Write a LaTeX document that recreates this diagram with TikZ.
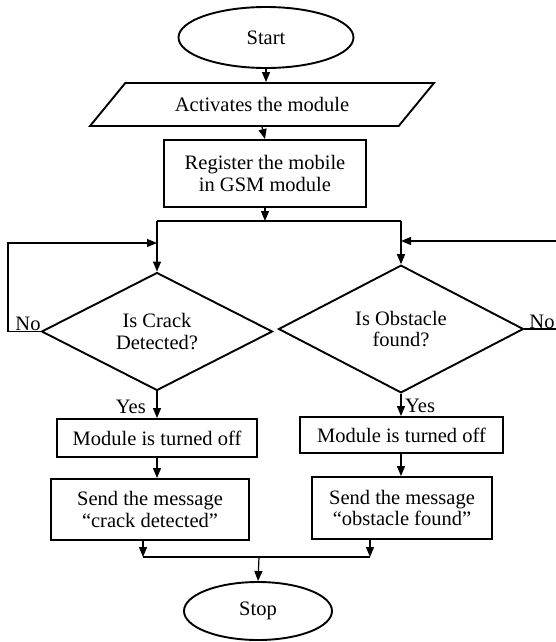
\documentclass[tikz,border=0pt]{standalone}
\usepackage{fontspec}
\setmainfont{Liberation Serif}
\usetikzlibrary{shapes.geometric,arrows.meta}
\begin{document}
\begin{tikzpicture}[x=1pt,y=-1pt,
  every node/.style={font=\fontsize{20.5}{21.5}\selectfont, align=center, inner sep=0pt},
  box/.style={draw, line width=1.9pt, rectangle},
  term/.style={draw, line width=1.9pt, ellipse},
  dec/.style={draw, line width=1.9pt, diamond},
  io/.style={draw, line width=1.9pt, trapezium, trapezium left angle=32.7, trapezium right angle=147.3, trapezium stretches=true},
  conn/.style={line width=1.2pt, -{Triangle[length=10pt,width=8pt]}},
  plain/.style={line width=1.2pt}
]
\fill[white] (0,0) rectangle (556,642);
\useasboundingbox (0,0) rectangle (556,642);

\node[term, minimum width=175pt, minimum height=61pt] (start) at (266,37.5) {Start};
\node[io, minimum width=344pt, minimum height=43pt] (act) at (262,104.5) {Activates the module};
\node[box, minimum width=202pt, minimum height=67pt] (reg) at (265,173.5) {Register the mobile\\in GSM module};

\draw[conn] (start.south) -- (start.south |- act.north);
\draw[conn] (act.north |- act.south) -- (reg.north);

\coordinate (jt) at (265,221);
\coordinate (jl) at (157,221);
\coordinate (jr) at (401,221);
\draw[conn] (reg.south) -- (jt);
\draw[plain] (jl) -- (jr);

\node[dec, minimum width=231pt, minimum height=113pt] (d1) at (157,331.5) {Is Crack\\Detected?};
\node[dec, minimum width=245pt, minimum height=112pt] (d2) at (401,329) {Is Obstacle\\found?};

\draw[conn] (jl) -- (d1.north);
\draw[conn] (jr) -- (d2.north);

\coordinate (lb) at (8,331.5);
\coordinate (lt) at (8,243);
\coordinate (la) at (157,243);
\draw[conn] (d1.west) -- (lb) -- (lt) -- (la);
\node[anchor=base] (no1) at (28,330) {No};

\coordinate (rb) at (558,329);
\coordinate (rt) at (558,241);
\coordinate (ra) at (401,241);
\draw[conn] (d2.east) -- (rb) -- (rt) -- (ra);
\node[anchor=base] (no2) at (542,328) {No};

\node[box, minimum width=200pt, minimum height=38pt] (m1) at (157,438) {Module is turned off};
\node[box, minimum width=198pt, minimum height=61pt] (s1) at (150,509.5) {Send the message\\“crack detected”};
\node[box, minimum width=203pt, minimum height=36pt] (m2) at (401.5,435) {Module is turned off};
\node[box, minimum width=180pt, minimum height=62pt] (s2) at (402,508) {Send the message\\“obstacle found”};

\draw[conn] (d1.south) -- (m1.north);
\node[anchor=base east] (yes1) at (146,413) {Yes};
\draw[conn] (d2.south) -- (d2.south |- m2.north);
\node[anchor=base west] (yes2) at (405,412) {Yes};
\draw[conn] (m1.south) -- (m1.south |- s1.north);
\draw[conn] (m2.south -| d2.south) -- (d2.south |- s2.north);

\node[term, minimum width=148pt, minimum height=58pt] (stop) at (258,611) {Stop};

\coordinate (bl) at (143,557);
\coordinate (br) at (370,557);
\coordinate (bm) at (259,557);
\draw[conn] (s1.south -| bl) -- (bl);
\draw[conn] (s2.south -| br) -- (br);
\draw[plain] (bl) -- (br);
\draw[conn] (bm) -- (stop.north);
\end{tikzpicture}
\end{document}
